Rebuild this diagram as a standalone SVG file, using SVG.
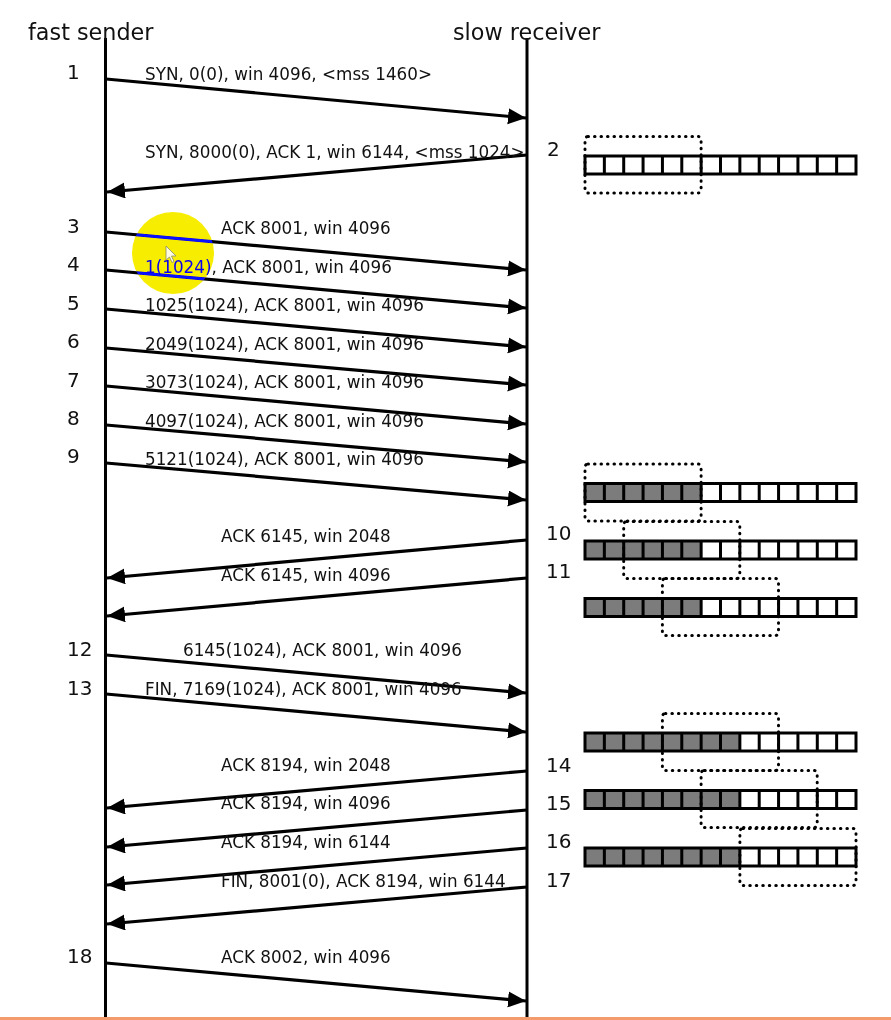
<svg xmlns="http://www.w3.org/2000/svg" xmlns:xlink="http://www.w3.org/1999/xlink" width="891" height="1020" viewBox="0 0 891 1020">
<style>
.title{font-family:"DejaVu Sans","Liberation Sans",sans-serif;font-size:22.3px;fill:#111}
.num{font-family:"DejaVu Sans","Liberation Sans",sans-serif;font-size:20px;fill:#111}
.lbl{font-family:"DejaVu Sans","Liberation Sans",sans-serif;font-size:16.8px;fill:#111}
.life{stroke:#000;stroke-width:3;fill:none}
.msg{stroke:#000;stroke-width:3.2;fill:none;marker-end:url(#ah)}
.bar{fill:#fff;stroke:none}
.used{fill:#7c7c7c;stroke:none}
.cells{fill:none;stroke:#000;stroke-width:3}
.win{fill:none;stroke:#000;stroke-width:3;stroke-dasharray:0.5 6;stroke-linecap:round}
</style>
<defs>
<marker id="ah" markerUnits="userSpaceOnUse" markerWidth="20" markerHeight="18" refX="18" refY="8" orient="auto">
<path d="M0,0 L18,8 L0,16 z" fill="#000"/>
</marker>
<g id="cells">
<rect x="585" y="0" width="271" height="18" class="cells"/>
<path class="cells" d="M604.36,0v18M623.71,0v18M643.07,0v18M662.43,0v18M681.79,0v18M701.14,0v18M720.5,0v18M739.86,0v18M759.21,0v18M778.57,0v18M797.93,0v18M817.29,0v18M836.64,0v18"/>
</g>
</defs>
<rect x="0" y="0" width="891" height="1020" fill="#fff"/>

<g id="sender">
<line class="life" x1="105.5" y1="38" x2="105.5" y2="1018"/>
<text class="title" x="28" y="40">fast sender</text>
</g>
<g id="receiver">
<line class="life" x1="527" y1="38" x2="527" y2="1018"/>
<text class="title" x="453" y="40">slow receiver</text>
</g>

<g id="connectors">
<line class="msg" x1="106" y1="79" x2="526" y2="118"/>
<line class="msg" x1="527" y1="155" x2="107" y2="192"/>
<line class="msg" x1="106" y1="232" x2="526" y2="270"/>
<line class="msg" x1="106" y1="270" x2="526" y2="308"/>
<line class="msg" x1="106" y1="309" x2="526" y2="347"/>
<line class="msg" x1="106" y1="348" x2="526" y2="385"/>
<line class="msg" x1="106" y1="386" x2="526" y2="424"/>
<line class="msg" x1="106" y1="425" x2="526" y2="462"/>
<line class="msg" x1="106" y1="463" x2="526" y2="500"/>
<line class="msg" x1="527" y1="540" x2="107" y2="578"/>
<line class="msg" x1="527" y1="578" x2="107" y2="616"/>
<line class="msg" x1="106" y1="655" x2="526" y2="693"/>
<line class="msg" x1="106" y1="694" x2="526" y2="732"/>
<line class="msg" x1="527" y1="771" x2="107" y2="808"/>
<line class="msg" x1="527" y1="810" x2="107" y2="847"/>
<line class="msg" x1="527" y1="848" x2="107" y2="885"/>
<line class="msg" x1="527" y1="887" x2="107" y2="924"/>
<line class="msg" x1="106" y1="963" x2="526" y2="1001"/>
</g>

<g id="labels">
<text class="lbl" x="145" y="80">SYN, 0(0), win 4096, &lt;mss 1460&gt;</text>
<text class="lbl" x="145" y="158">SYN, 8000(0), ACK 1, win 6144, &lt;mss 1024&gt;</text>
<text class="lbl" x="221" y="234">ACK 8001, win 4096</text>
<text class="lbl" x="145" y="273">1(1024), ACK 8001, win 4096</text>
<text class="lbl" x="145" y="311">1025(1024), ACK 8001, win 4096</text>
<text class="lbl" x="145" y="350">2049(1024), ACK 8001, win 4096</text>
<text class="lbl" x="145" y="388">3073(1024), ACK 8001, win 4096</text>
<text class="lbl" x="145" y="427">4097(1024), ACK 8001, win 4096</text>
<text class="lbl" x="145" y="465">5121(1024), ACK 8001, win 4096</text>
<text class="lbl" x="221" y="542">ACK 6145, win 2048</text>
<text class="lbl" x="221" y="581">ACK 6145, win 4096</text>
<text class="lbl" x="183" y="656">6145(1024), ACK 8001, win 4096</text>
<text class="lbl" x="145" y="695">FIN, 7169(1024), ACK 8001, win 4096</text>
<text class="lbl" x="221" y="771">ACK 8194, win 2048</text>
<text class="lbl" x="221" y="809">ACK 8194, win 4096</text>
<text class="lbl" x="221" y="848">ACK 8194, win 6144</text>
<text class="lbl" x="221" y="887">FIN, 8001(0), ACK 8194, win 6144</text>
<text class="lbl" x="221" y="963">ACK 8002, win 4096</text>
</g>

<g id="step-numbers">
<text class="num" x="67" y="79">1</text>
<text class="num" x="547" y="156">2</text>
<text class="num" x="67" y="233">3</text>
<text class="num" x="67" y="271">4</text>
<text class="num" x="67" y="310">5</text>
<text class="num" x="67" y="348">6</text>
<text class="num" x="67" y="387">7</text>
<text class="num" x="67" y="425">8</text>
<text class="num" x="67" y="463">9</text>
<text class="num" x="546" y="540">10</text>
<text class="num" x="546" y="578">11</text>
<text class="num" x="67" y="656">12</text>
<text class="num" x="67" y="695">13</text>
<text class="num" x="546" y="772">14</text>
<text class="num" x="546" y="810">15</text>
<text class="num" x="546" y="848">16</text>
<text class="num" x="546" y="887">17</text>
<text class="num" x="67" y="963">18</text>
</g>

<g id="buffer-2">
<rect class="bar" x="585" y="156" width="271" height="18"/>
<use xlink:href="#cells" href="#cells" transform="translate(0,156)"/>
<rect class="win" x="585" y="136.5" width="116.1" height="56.5" rx="3"/>
</g>
<g id="buffer-9">
<rect class="bar" x="585" y="483.5" width="271" height="18"/>
<rect class="used" x="585" y="483.5" width="116.1" height="18"/>
<use xlink:href="#cells" href="#cells" transform="translate(0,483.5)"/>
<rect class="win" x="585" y="464" width="116.1" height="57" rx="3"/>
</g>
<g id="buffer-10">
<rect class="bar" x="585" y="541" width="271" height="18"/>
<rect class="used" x="585" y="541" width="116.1" height="18"/>
<use xlink:href="#cells" href="#cells" transform="translate(0,541)"/>
<rect class="win" x="623.7" y="521.5" width="116.1" height="57" rx="3"/>
</g>
<g id="buffer-11">
<rect class="bar" x="585" y="598.5" width="271" height="18"/>
<rect class="used" x="585" y="598.5" width="116.1" height="18"/>
<use xlink:href="#cells" href="#cells" transform="translate(0,598.5)"/>
<rect class="win" x="662.4" y="578.5" width="116.1" height="57" rx="3"/>
</g>
<g id="buffer-13">
<rect class="bar" x="585" y="733" width="271" height="18"/>
<rect class="used" x="585" y="733" width="154.9" height="18"/>
<use xlink:href="#cells" href="#cells" transform="translate(0,733)"/>
<rect class="win" x="662.4" y="713.5" width="116.1" height="57" rx="3"/>
</g>
<g id="buffer-14">
<rect class="bar" x="585" y="790.5" width="271" height="18"/>
<rect class="used" x="585" y="790.5" width="154.9" height="18"/>
<use xlink:href="#cells" href="#cells" transform="translate(0,790.5)"/>
<rect class="win" x="701.1" y="770.5" width="116.1" height="57" rx="3"/>
</g>
<g id="buffer-15">
<rect class="bar" x="585" y="848" width="271" height="18"/>
<rect class="used" x="585" y="848" width="154.9" height="18"/>
<use xlink:href="#cells" href="#cells" transform="translate(0,848)"/>
<rect class="win" x="739.9" y="828.5" width="116.1" height="57" rx="3"/>
</g>

<g id="highlight">
<circle cx="173" cy="253" r="41" fill="#0812ff" style="mix-blend-mode:difference"/>
<polygon points="166,246 166,260 169.5,257 172,262.5 174,261.5 171.5,256 176,256" fill="#fffbe0" stroke="#8a8a6a" stroke-width="0.8"/>
</g>

<rect x="0" y="1017" width="891" height="3" fill="#f39b6c"/>
</svg>
